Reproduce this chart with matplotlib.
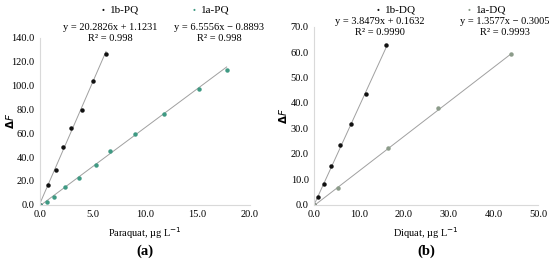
import numpy as np
import matplotlib
matplotlib.use('Agg')
from matplotlib import pyplot as plt

plt.rcParams['font.family'] = ['Liberation Serif', 'DejaVu Serif']

# panel (a) paraquat
pq_b_x = [0.0, 0.73, 1.49, 2.22, 2.95, 4.0, 5.02, 6.29]
pq_b_y = [0.0, 16.8, 29.4, 48.5, 64.2, 79.6, 103.9, 126.6]
pq_a_x = [0.0, 0.67, 1.33, 2.38, 3.68, 5.37, 6.70, 9.08, 11.78, 15.1, 17.78]
pq_a_y = [0.0, 2.3, 6.2, 14.9, 22.4, 33.1, 45.4, 59.4, 76.5, 97.0, 113.2]
pq_b_fit = (20.2826, 1.1231)
pq_a_fit = (6.5556, -0.8893)

# panel (b) diquat
dq_b_x = [0.0, 0.89, 2.1, 3.66, 5.74, 8.26, 11.54, 16.0]
dq_b_y = [0.0, 3.0, 8.3, 15.1, 23.5, 31.7, 43.6, 62.9]
dq_a_x = [0.0, 5.36, 16.5, 27.5, 43.9]
dq_a_y = [0.0, 6.6, 22.2, 38.1, 59.4]
dq_b_fit = (3.8479, 0.1632)
dq_a_fit = (1.3577, -0.3005)

black = '#111111'
teal = '#3f9a83'
grey = '#8c9c8a'
linec = '#a0a0a0'
axc = '#d9d9d9'

fig = plt.figure(figsize=(5.5, 2.66), dpi=100)


def panel(rect, series, xlim, ylim, xstep, ystep, xlabel, letter, lab_y, eq_y):
	ax = fig.add_axes(rect)
	for xs, ys, fit, col, name, lx, ex in series:
		xx = np.array([min(xs), max(xs)])
		ax.plot(xx, fit[0] * xx + fit[1], color=linec, lw=0.7, zorder=1)
		ax.plot(xs, ys, 'o', ms=2.2, color=col, zorder=2)
		fig.text(lx, lab_y, '\u25cf', color=col, fontsize=3.5, ha='right', va='center')
		fig.text(lx + 0.01, lab_y, name, fontsize=8, ha='left', va='center')
		sign = '+' if fit[1] >= 0 else '\u2212'
		r2 = ex[1]
		fig.text(ex[0], eq_y, 'y = %.4fx %s %.4f\nR\u00b2 = %s' % (fit[0], sign, abs(fit[1]), r2),
			fontsize=7.5, ha='center', va='top', linespacing=1.3)
	ax.set_xlim(*xlim)
	ax.set_ylim(*ylim)
	ax.set_xticks(np.arange(xlim[0], xlim[1] + 0.01, xstep))
	ax.set_yticks(np.arange(ylim[0], ylim[1] + 0.01, ystep))
	ax.xaxis.set_major_formatter('{x:.1f}')
	ax.yaxis.set_major_formatter('{x:.1f}')
	for s in ['top', 'right']:
		ax.spines[s].set_visible(False)
	for s in ['left', 'bottom']:
		ax.spines[s].set_color(axc)
		ax.spines[s].set_linewidth(0.8)
	ax.tick_params(length=0, labelsize=7.5, pad=4)
	ax.set_xlabel(xlabel, fontsize=7.5, labelpad=4)
	ax.set_ylabel(r'$\mathbf{\Delta}\mathit{F}$', fontsize=7.5)
	ax.yaxis.set_label_coords(-0.115, 0.5)
	ax.patch.set_alpha(0)
	fig.text(rect[0] + rect[2] / 2, 0.055, letter, fontsize=10.5, fontweight='bold',
		ha='center', va='center')
	return ax


panel([0.0727, 0.2305, 0.3818, 0.6267],
	[(pq_b_x, pq_b_y, pq_b_fit, black, '1b-PQ', 0.19, (0.20, '0.998')),
	 (pq_a_x, pq_a_y, pq_a_fit, teal, '1a-PQ', 0.355, (0.398, '0.998'))],
	(0, 20), (0, 140), 5, 20, 'Paraquat, \u00b5g L$^{-1}$', '(a)', 0.962, 0.915)

panel([0.5715, 0.2305, 0.4073, 0.669],
	[(dq_b_x, dq_b_y, dq_b_fit, black, '1b-DQ', 0.69, (0.691, '0.9990')),
	 (dq_a_x, dq_a_y, dq_a_fit, grey, '1a-DQ', 0.855, (0.918, '0.9993'))],
	(0, 50), (0, 70), 10, 10, 'Diquat, \u00b5g L$^{-1}$', '(b)', 0.962, 0.935)

fig.savefig('out.png', dpi=100)
